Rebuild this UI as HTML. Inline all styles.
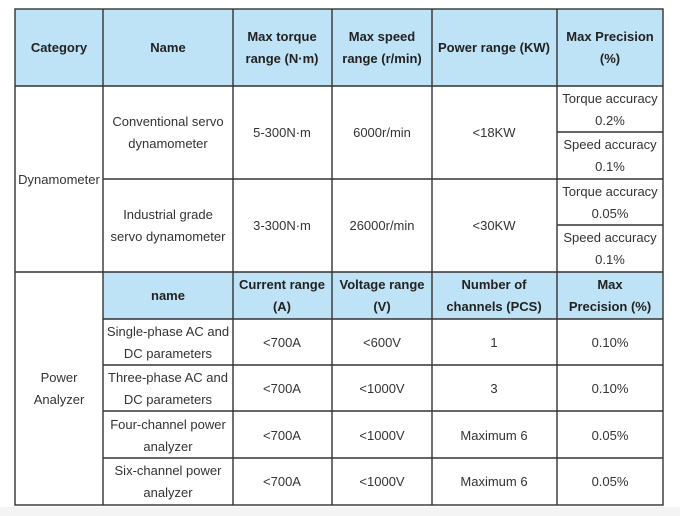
<!DOCTYPE html>
<html><head><meta charset="utf-8"><style>
html,body{margin:0;padding:0;background:#fff;}
svg{display:block}
text{font-family:"Liberation Sans",Arial,sans-serif;font-size:13px;fill:#333;text-anchor:middle}
.b{font-weight:bold;fill:#222}
</style></head><body>
<svg width="680" height="516" viewBox="0 0 680 516">
<rect x="0" y="507" width="680" height="9" fill="#f4f4f4"/>
<rect x="15" y="9" width="648" height="77" fill="#bfe3f6"/>
<rect x="103" y="272" width="560" height="47" fill="#bfe3f6"/>
<g stroke="#333" stroke-width="1.4" fill="none">
<rect x="15" y="9" width="648" height="496"/>
<line x1="15" y1="86" x2="663" y2="86"/>
<line x1="103" y1="179" x2="663" y2="179"/>
<line x1="15" y1="272" x2="663" y2="272"/>
<line x1="557" y1="132" x2="663" y2="132"/>
<line x1="557" y1="225" x2="663" y2="225"/>
<line x1="103" y1="319" x2="663" y2="319"/>
<line x1="103" y1="365" x2="663" y2="365"/>
<line x1="103" y1="411" x2="663" y2="411"/>
<line x1="103" y1="458" x2="663" y2="458"/>
<line x1="103" y1="9" x2="103" y2="505"/>
<line x1="233" y1="9" x2="233" y2="505"/>
<line x1="332" y1="9" x2="332" y2="505"/>
<line x1="432" y1="9" x2="432" y2="505"/>
<line x1="557" y1="9" x2="557" y2="505"/>
</g>
<text class="b" x="59" y="52">Category</text>
<text class="b" x="168" y="52">Name</text>
<text class="b" x="282" y="41">Max torque</text>
<text class="b" x="282" y="63">range (N·m)</text>
<text class="b" x="382" y="41">Max speed</text>
<text class="b" x="382" y="63">range (r/min)</text>
<text class="b" x="494" y="52">Power range (KW)</text>
<text class="b" x="610" y="41">Max Precision</text>
<text class="b" x="610" y="63">(%)</text>

<text x="59" y="184">Dynamometer</text>
<text x="168" y="126">Conventional servo</text>
<text x="168" y="148">dynamometer</text>
<text x="282" y="137">5-300N·m</text>
<text x="382" y="137">6000r/min</text>
<text x="494" y="137">&lt;18KW</text>
<text x="610" y="103">Torque accuracy</text>
<text x="610" y="125">0.2%</text>
<text x="610" y="149">Speed accuracy</text>
<text x="610" y="171">0.1%</text>

<text x="168" y="219">Industrial grade</text>
<text x="168" y="241">servo dynamometer</text>
<text x="282" y="230">3-300N·m</text>
<text x="382" y="230">26000r/min</text>
<text x="494" y="230">&lt;30KW</text>
<text x="610" y="196">Torque accuracy</text>
<text x="610" y="218">0.05%</text>
<text x="610" y="242">Speed accuracy</text>
<text x="610" y="264">0.1%</text>

<text x="59" y="382">Power</text>
<text x="59" y="404">Analyzer</text>
<text class="b" x="168" y="300">name</text>
<text class="b" x="282" y="289">Current range</text>
<text class="b" x="282" y="311">(A)</text>
<text class="b" x="382" y="289">Voltage range</text>
<text class="b" x="382" y="311">(V)</text>
<text class="b" x="494" y="289">Number of</text>
<text class="b" x="494" y="311">channels (PCS)</text>
<text class="b" x="610" y="289">Max</text>
<text class="b" x="610" y="311">Precision (%)</text>

<text x="168" y="336">Single-phase AC and</text>
<text x="168" y="358">DC parameters</text>
<text x="282" y="347">&lt;700A</text>
<text x="382" y="347">&lt;600V</text>
<text x="494" y="347">1</text>
<text x="610" y="347">0.10%</text>

<text x="168" y="382">Three-phase AC and</text>
<text x="168" y="404">DC parameters</text>
<text x="282" y="393">&lt;700A</text>
<text x="382" y="393">&lt;1000V</text>
<text x="494" y="393">3</text>
<text x="610" y="393">0.10%</text>

<text x="168" y="429">Four-channel power</text>
<text x="168" y="451">analyzer</text>
<text x="282" y="440">&lt;700A</text>
<text x="382" y="440">&lt;1000V</text>
<text x="494" y="440">Maximum 6</text>
<text x="610" y="440">0.05%</text>

<text x="168" y="475">Six-channel power</text>
<text x="168" y="497">analyzer</text>
<text x="282" y="486">&lt;700A</text>
<text x="382" y="486">&lt;1000V</text>
<text x="494" y="486">Maximum 6</text>
<text x="610" y="486">0.05%</text>
</svg>
</body></html>
